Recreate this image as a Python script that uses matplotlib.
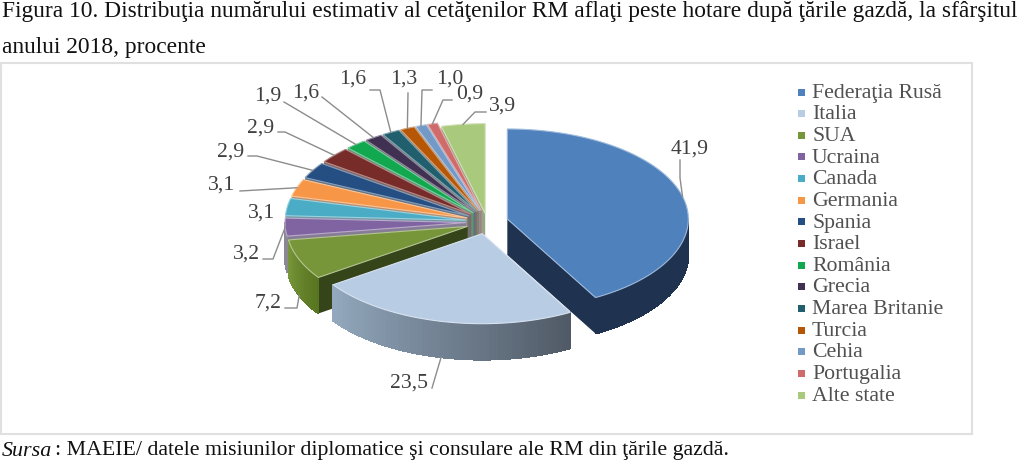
import numpy as np
import matplotlib
matplotlib.use('Agg')
import matplotlib.pyplot as plt
from matplotlib.colors import to_rgb
from matplotlib.patches import Polygon, Rectangle

plt.rcParams['font.family'] = ['Liberation Serif', 'DejaVu Serif']

# data
countries = ['Federaţia Rusă', 'Italia', 'SUA', 'Ucraina', 'Canada', 'Germania', 'Spania', 'Israel',
             'România', 'Grecia', 'Marea Britanie', 'Turcia', 'Cehia', 'Portugalia', 'Alte state']
values = [41.9, 23.5, 7.2, 3.2, 3.1, 3.1, 2.9, 2.9, 1.9, 1.6, 1.6, 1.3, 1.0, 0.9, 3.9]
value_labels = ['41,9', '23,5', '7,2', '3,2', '3,1', '3,1', '2,9', '2,9', '1,9', '1,6', '1,6', '1,3', '1,0', '0,9', '3,9']
colors = ['#4F81BD', '#B8CCE4', '#77963A', '#8064A2', '#4BACC6', '#F79646', '#254F82', '#772C2A',
          '#12A84F', '#403152', '#215F6E', '#B65708', '#7399C6', '#D06B6B', '#A9C97C']
explode = [1, 1, 1, 1, 1, 1, 1, 1, 1, 1, 1, 1, 1, 1, 0.7]

# label centres and leader elbows, in picture pixels
label_pos = [(690, 149), (409, 383), (268, 303), (247, 254), (262, 213), (222, 185), (231, 152), (261, 128),
             (268, 96), (306, 93), (353, 79), (404, 79), (450, 79), (470, 94), (503, 106)]
leader_pts = [[(680, 160), (680, 178)], [(432, 388)], [(285, 308), (297, 308)], [(263, 259), (273, 259)], [],
              [(240, 191)], [(248, 156), (257, 156)], [(278, 132), (285, 132)], [(284, 102)], [(322, 97)],
              [(370, 90), (380, 90)], [(408, 93)], [(432, 90), (422, 90)], [(452, 100), (443, 100)],
              [(486, 112), (475, 112)]]

# pie geometry
cx, cy = 487, 222
rx, ry = 181, 90
ex, ey = 21, 12
depth = 36


def mix(c1, c2, t):
    return tuple(a + (b - a) * t for a, b in zip(to_rgb(c1), to_rgb(c2)))


def rim(ax0, ay0, deg):
    a = np.radians(deg)
    return ax0 + rx * np.sin(a), ay0 - ry * np.cos(a)


fig = plt.figure(figsize=(10.24, 4.71), dpi=100)
ax = fig.add_axes([0, 0, 1, 1])
ax.set_xlim(0, 1024)
ax.set_ylim(471, 0)
ax.axis('off')

ax.add_patch(Rectangle((1, 62.5), 971, 371, fill=False, ec='#e0e0e0', lw=1.5))

ax.text(2, 12, 'Figura 10. Distribuţia numărului estimativ al cetăţenilor RM aflaţi peste hotare după ţările gazdă, la sfârşitul',
        fontsize=16.95, va='center', color='#111111')
ax.text(2, 47, 'anului 2018, procente', fontsize=16.95, va='center', color='#111111')
ax.text(2, 451, 'Sursa', fontsize=15.8, style='italic', va='center', color='#111111')
ax.text(55, 451, ': MAEIE/ datele misiunilor diplomatice şi consulare ale RM din ţările gazdă.',
        fontsize=15.75, va='center', color='#111111')

edges = np.concatenate([[0], np.cumsum(values)]) * 3.6
mids = (edges[:-1] + edges[1:]) / 2
apex = [(cx + ex * e * np.sin(np.radians(m)), cy - ey * e * np.cos(np.radians(m))) for e, m in zip(explode, mids)]

# painter's order, back slices first
order = sorted(range(len(values)), key=lambda i: -np.cos(np.radians(mids[i])))
z = 2
for i in order:
    px, py = apex[i]
    t0, t1 = edges[i], edges[i + 1]
    dark = mix(colors[i], '#000000', 0.55)
    if i == 0:
        dark = '#1F3350'
    if i >= 3:
        dark = mix(colors[i], '#8c8c8c', 0.6)

    # radial walls
    for t in (t0, t1):
        rimx, rimy = rim(px, py, t)
        ax.add_patch(Polygon([(px, py), (rimx, rimy), (rimx, rimy + depth), (px, py + depth)],
                             fc=dark, ec='none', zorder=z))
    z += 1

    # outer wall, split in strips to get the shading
    lo, hi = max(t0, 90), min(t1, 270)
    if hi > lo:
        angles = np.linspace(lo, hi, 60)
        xs, ys = rim(px, py, angles)
        for k in range(len(angles) - 1):
            f = k / (len(angles) - 2)
            if i == 0:
                c = '#1F3350'
            elif i == 1:
                c = mix('#505A66', '#93A8BE', f)
            elif i == 2:
                c = mix('#57741F', '#77963A', f)
            else:
                c = '#8b8793'
            ax.add_patch(Polygon([(xs[k], ys[k]), (xs[k + 1], ys[k + 1]),
                                  (xs[k + 1], ys[k + 1] + depth), (xs[k], ys[k] + depth)],
                                 fc=c, ec=c, lw=0.6, antialiased=False, zorder=z))
    z += 1

    # top face
    angles = np.linspace(t0, t1, 80)
    xs, ys = rim(px, py, angles)
    ax.add_patch(Polygon([(px, py)] + list(zip(xs, ys)), fc=colors[i], ec=mix(colors[i], '#ffffff', 0.45),
                         lw=0.8, zorder=z))
    z += 1

# value labels and leaders
for i, lab in enumerate(value_labels):
    lx, ly = label_pos[i]
    ax.text(lx, ly, lab, fontsize=15.6, color='#404040', ha='center', va='center', zorder=z + 2)
    if leader_pts[i]:
        sx, sy = rim(apex[i][0], apex[i][1], mids[i])
        if np.cos(np.radians(mids[i])) < -0.2:
            sy += depth
        pts = leader_pts[i] + [(sx, sy)]
        ax.plot([p[0] for p in pts], [p[1] for p in pts], color='#8c8c8c', lw=1.0, zorder=z + 1)

# legend
leg_y = np.linspace(92, 395, len(countries))
for name, col, y in zip(countries, colors, leg_y):
    ax.add_patch(Rectangle((798, y - 3.5), 7, 7, fc=col, ec='none'))
    ax.text(812, y + 1.2, name, fontsize=15.7, color='#505050', va='center')

fig.savefig('out.png', dpi=100)
